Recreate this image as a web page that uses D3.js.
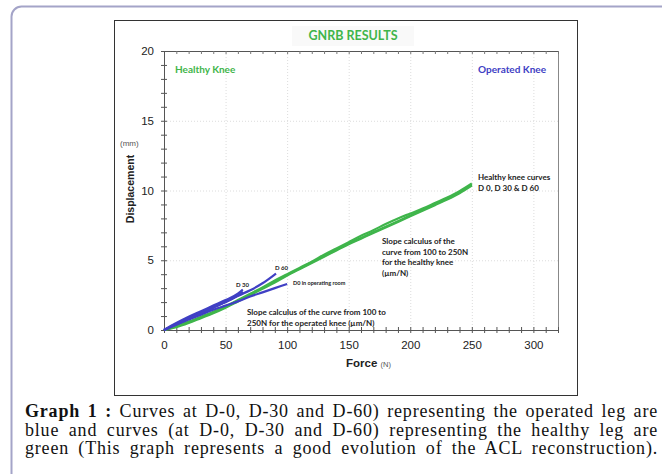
<!DOCTYPE html>
<html>
<head>
<meta charset="utf-8">
<script src="https://cdn.jsdelivr.net/npm/d3@7"></script>
<style>
  body { margin: 0; background: #fff; }
  svg { display: block; }
</style>
</head>
<body>
<div id="chart"></div>
<script>
// force steps (N)
var healthyForce = [0,10,20,30,40,50,60,70,80,90,100,110,120,130,140,150,160,170,180,190,200,210,220,230,240,250];
// displacement (mm), healthy knee
var healthyD0  = [0,0.25,0.55,0.9,1.25,1.65,2.1,2.55,3.0,3.5,3.95,4.4,4.85,5.3,5.75,6.2,6.6,7.0,7.4,7.8,8.2,8.6,9.0,9.4,9.85,10.4];
var healthyD30 = [0,0.3,0.6,0.95,1.3,1.7,2.15,2.6,3.05,3.55,4.0,4.45,4.9,5.4,5.85,6.3,6.75,7.15,7.6,8.0,8.35,8.7,9.1,9.5,9.95,10.5];
var healthyD60 = [0,0.2,0.5,0.85,1.2,1.6,2.05,2.5,2.95,3.4,3.9,4.35,4.8,5.25,5.7,6.15,6.55,6.95,7.35,7.75,8.15,8.55,8.95,9.35,9.8,10.35];

// operated knee
var operatedD0Force = [0,10,20,30,40,50,60,70,80,90,100];
var operatedD0      = [0,0.4,0.75,1.1,1.45,1.75,2.05,2.4,2.7,3.0,3.3];
var operatedD30Force = [0,10,20,30,40,50,60,64];
var operatedD30a     = [0,0.5,0.95,1.35,1.75,2.15,2.6,2.9];
var operatedD30b     = [0,0.4,0.8,1.2,1.6,2.0,2.45,2.65];
var operatedD30c     = [0,0.45,0.85,1.25,1.65,2.05,2.5,2.75];
var operatedD60Force = [0,10,20,30,40,50,60,70,80,91];
var operatedD60      = [0,0.4,0.8,1.2,1.6,2.0,2.45,2.85,3.35,4.05];

var xTicks = [0,50,100,150,200,250,300];
var yTicks = [0,5,10,15,20];

var green = '#3fb54b';
var blue = '#4040c4';

var width = 662, height = 474;
var svg = d3.select('#chart').append('svg')
  .attr('width', width)
  .attr('height', height);

// page frame
svg.append('rect')
  .attr('x', 11.5).attr('y', 6.5)
  .attr('width', 700).attr('height', 520)
  .attr('rx', 10)
  .attr('fill', 'none')
  .attr('stroke', '#a4a4c8')
  .attr('stroke-width', 2);

// picture box
svg.append('rect')
  .attr('x', 114.5).attr('y', 20.5)
  .attr('width', 463).attr('height', 375)
  .attr('fill', '#fff')
  .attr('stroke', '#333');

var x = d3.scaleLinear().domain([0, 320]).range([164, 558]);
var y = d3.scaleLinear().domain([0, 20]).range([330, 51]);

// title
svg.append('rect')
  .attr('x', 292).attr('y', 26).attr('width', 122).attr('height', 20)
  .attr('fill', '#f9f9f9');
svg.append('text')
  .attr('x', 353).attr('y', 40)
  .attr('text-anchor', 'middle')
  .style('font-family', 'Lato, sans-serif')
  .style('font-weight', 'bold')
  .style('font-size', '12.5px')
  .attr('fill', green)
  .text('GNRB RESULTS');

// grid
var grid = svg.append('g').attr('stroke', '#dcdcdc').attr('stroke-dasharray', '1,2');
grid.selectAll('.vg').data(xTicks.filter(function(d){ return d > 0; }))
  .enter().append('line')
  .attr('x1', function(d){ return x(d) + 0.5; })
  .attr('x2', function(d){ return x(d) + 0.5; })
  .attr('y1', y(20)).attr('y2', y(0));
grid.selectAll('.hg').data(yTicks.filter(function(d){ return d > 0; }))
  .enter().append('line')
  .attr('y1', function(d){ return y(d) + 0.5; })
  .attr('y2', function(d){ return y(d) + 0.5; })
  .attr('x1', x(0)).attr('x2', x(320));

// right frame side
svg.append('line')
  .attr('x1', x(320) + 0.5).attr('x2', x(320) + 0.5)
  .attr('y1', y(20)).attr('y2', y(0))
  .attr('stroke', '#888');

var tickFont = function(sel){
  sel.selectAll('text')
    .style('font-family', '"Liberation Sans", Arial, sans-serif')
    .style('font-size', '11.5px')
    .attr('fill', '#222');
};

// bottom axis, crossing ticks
var xAxis = svg.append('g')
  .attr('transform', 'translate(0,' + y(0) + ')')
  .call(d3.axisBottom(x).tickValues(d3.range(0, 321, 10)).tickSize(3)
    .tickFormat(function(d){ return d % 50 === 0 && d <= 300 ? d : ''; }).tickPadding(8));
xAxis.select('.domain').attr('stroke', '#555');
xAxis.selectAll('.tick line').attr('y1', -3).attr('stroke', '#555');
xAxis.call(tickFont);

// top axis
var topAxis = svg.append('g')
  .attr('transform', 'translate(0,' + y(20) + ')')
  .call(d3.axisBottom(x).tickValues(d3.range(0, 321, 10)).tickSize(3).tickFormat(''));
topAxis.select('.domain').attr('stroke', '#555');
topAxis.selectAll('.tick line').attr('stroke', '#777');

// left axis
var yAxis = svg.append('g')
  .attr('transform', 'translate(' + x(0) + ',0)')
  .call(d3.axisLeft(y).tickValues(d3.range(0, 20.01, 1)).tickSize(3)
    .tickFormat(function(d){ return d % 5 === 0 ? d : ''; }).tickPadding(7));
yAxis.select('.domain').attr('stroke', '#555');
yAxis.selectAll('.tick line').attr('x1', 3).attr('stroke', '#555');
yAxis.call(tickFont);

// axis titles
svg.append('text')
  .attr('transform', 'translate(134,189) rotate(-90)')
  .attr('text-anchor', 'middle')
  .style('font-family', '"Liberation Sans", Arial, sans-serif')
  .style('font-weight', 'bold')
  .style('font-size', '10.5px')
  .attr('fill', '#222')
  .text('Displacement');
svg.append('text')
  .attr('x', 120).attr('y', 146)
  .style('font-family', '"Liberation Sans", Arial, sans-serif')
  .style('font-size', '8px')
  .attr('fill', '#555')
  .text('(mm)');
var fx = svg.append('text')
  .attr('x', 346).attr('y', 367)
  .style('font-family', '"Liberation Sans", Arial, sans-serif')
  .attr('fill', '#222');
fx.append('tspan').style('font-weight', 'bold').style('font-size', '11.5px').text('Force ');
fx.append('tspan').style('font-size', '7.5px').attr('fill', '#555').text('(N)');

// curves
var line = d3.line()
  .x(function(d){ return x(d[0]); })
  .y(function(d){ return y(d[1]); })
  .curve(d3.curveMonotoneX);

var series = [
  {force: healthyForce, disp: healthyD0, color: green},
  {force: healthyForce, disp: healthyD30, color: green},
  {force: healthyForce, disp: healthyD60, color: green},
  {force: operatedD0Force, disp: operatedD0, color: blue},
  {force: operatedD30Force, disp: operatedD30a, color: blue},
  {force: operatedD30Force, disp: operatedD30b, color: blue},
  {force: operatedD30Force, disp: operatedD30c, color: blue},
  {force: operatedD60Force, disp: operatedD60, color: blue}
];

svg.append('g').selectAll('path')
  .data(series)
  .enter().append('path')
  .attr('d', function(s){ return line(d3.zip(s.force, s.disp)); })
  .attr('fill', 'none')
  .attr('stroke', function(s){ return s.color; })
  .attr('stroke-width', 2.2);

// labels inside plot
var label = function(tx, ty, lines, size, color, weight, lh){
  var t = svg.append('text')
    .attr('x', tx).attr('y', ty)
    .style('font-family', 'Lato, sans-serif')
    .style('font-size', size + 'px')
    .style('font-weight', weight)
    .attr('fill', color);
  lines.forEach(function(l, i){
    t.append('tspan').attr('x', tx).attr('dy', i === 0 ? 0 : lh).text(l);
  });
};

label(175, 73, ['Healthy Knee'], 10, green, 'bold', 0);
label(478, 73, ['Operated Knee'], 10, blue, 'bold', 0);
label(478, 180, ['Healthy knee curves', 'D 0, D 30 & D 60'], 8, '#222', 'bold', 10.5);
label(382, 244, ['Slope calculus of the', 'curve from 100 to 250N', 'for the healthy knee', '(\u00b5m/N)'], 8, '#222', 'bold', 10.5);
label(247, 315, ['Slope calculus of the curve from 100 to', '250N for the operated knee (\u00b5m/N)'], 8, '#222', 'bold', 10.5);
label(275, 270, ['D 60'], 6, '#222', 'bold', 0);
label(236, 287, ['D 30'], 6, '#222', 'bold', 0);
label(293, 285, ['D0 in operating room'], 5.5, '#222', 'bold', 0);

// caption, justified lines
var captionLines = [
  [{b: 'Graph 1 :'}, ' Curves at D-0, D-30 and D-60) representing the operated leg are'],
  ['blue and curves (at D-0, D-30 and D-60) representing the healthy leg are'],
  ['green (This graph represents a good evolution of the ACL reconstruction).']
];
var capLeft = 25, capRight = 658;
captionLines.forEach(function(parts, i){
  var t = svg.append('text')
    .attr('x', capLeft).attr('y', 417 + i * 18.6)
    .style('font-family', '"Liberation Serif", "Times New Roman", serif')
    .style('font-size', '18px')
    .style('letter-spacing', '0.8px')
    .attr('fill', '#111');
  var spaces = 0;
  parts.forEach(function(p){
    if (typeof p === 'string') {
      t.append('tspan').text(p);
      spaces += p.split(' ').length - 1;
    } else {
      t.append('tspan').style('font-weight', 'bold').text(p.b);
      spaces += p.b.split(' ').length - 1;
    }
  });
  var w = t.node().getComputedTextLength();
  t.style('word-spacing', ((capRight - capLeft - w) / spaces) + 'px');
});
</script>
</body>
</html>
